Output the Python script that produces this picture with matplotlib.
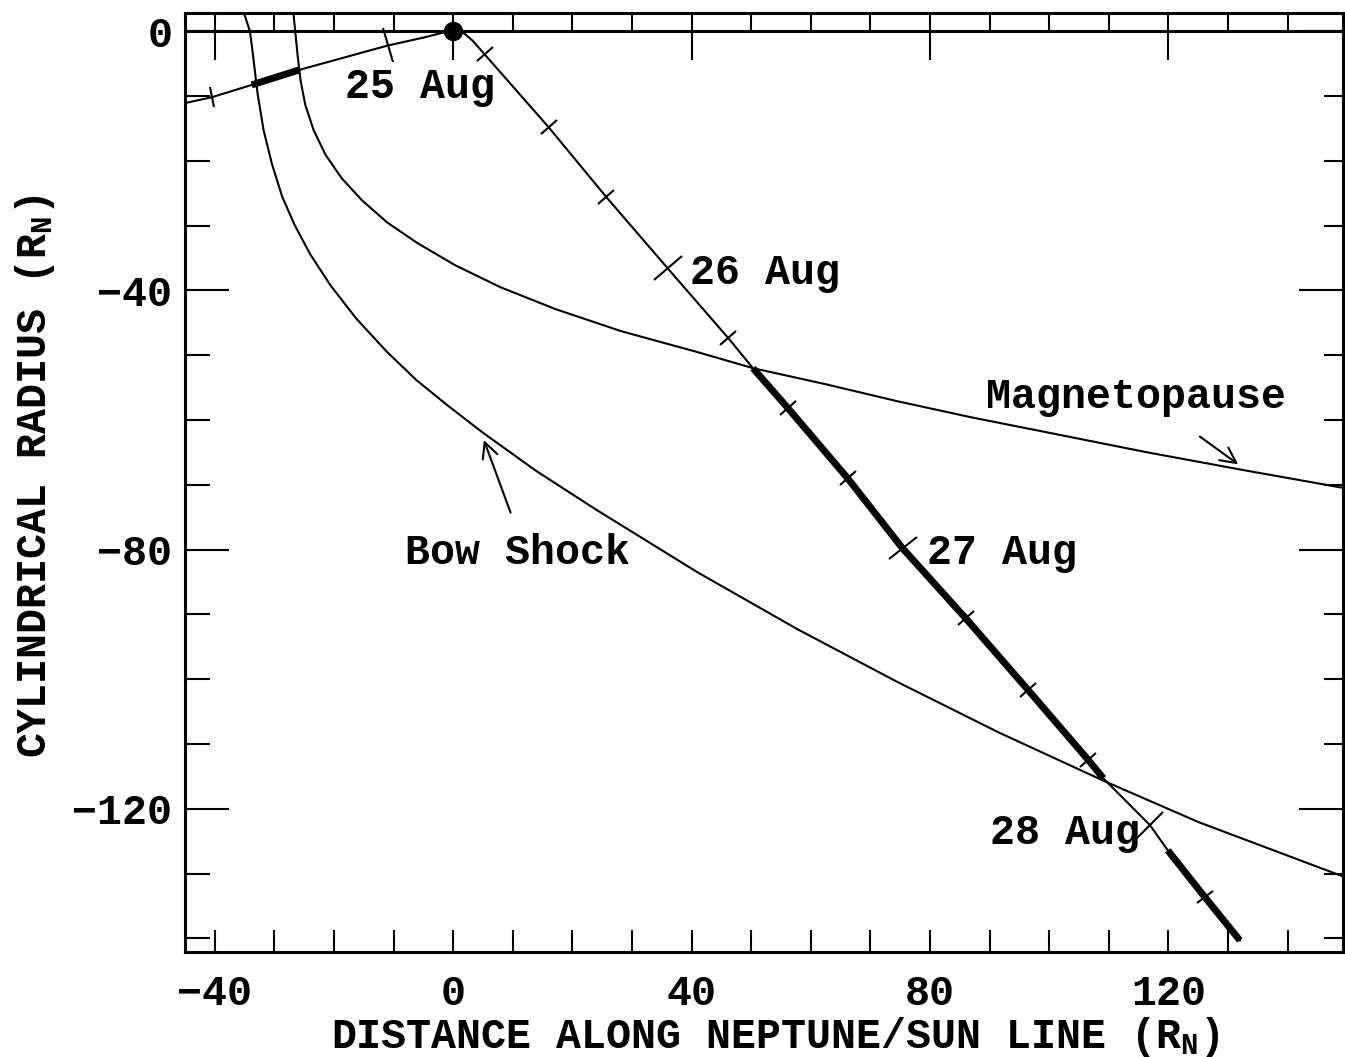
import numpy as np
import matplotlib.pyplot as plt
from matplotlib.markers import MarkerStyle
from matplotlib.transforms import Affine2D
from matplotlib.ticker import MultipleLocator

plt.rcParams['font.family'] = ['Liberation Mono', 'DejaVu Sans Mono']
plt.rcParams['font.weight'] = 'bold'
plt.rcParams['axes.labelweight'] = 'bold'
plt.rcParams['mathtext.fontset'] = 'custom'
plt.rcParams['mathtext.rm'] = 'Liberation Mono:bold'

# Voyager 2 path, R_N (x along Neptune/Sun line, y cylindrical radius)
traj_x = [-45.5, -40.5, -33.8, -25.9, -10.9, -5.0, -2.0, 0.0, 1.8, 3.3, 5.3, 16.0, 25.7, 36.0,
          46.2, 50.3, 56.2, 66.2, 75.4, 86.0, 96.5, 106.6, 109.1, 116.9, 119.9, 126.1, 132.0]
traj_y = [-11.2, -10.2, -8.3, -6.0, -2.2, -1.0, -0.3, 0.0, -0.3, -1.5, -3.6, -14.8, -25.6, -36.6,
          -47.4, -52.0, -58.2, -69.0, -79.8, -90.6, -101.7, -112.5, -115.3, -122.5, -126.4, -133.6, -140.3]

# parts of the path drawn heavy (x ranges)
sheath = [(-33.8, -25.9), (50.3, 109.1), (119.9, 132.0)]

# 6-hour marks
hr_x = [-40.5, 5.3, 16.0, 25.7, 46.2, 56.2, 66.2, 86.0, 96.5, 106.6, 126.1]
hr_y = [-10.2, -3.6, -14.8, -25.6, -47.4, -58.2, -69.0, -90.6, -101.7, -112.5, -133.6]

# day marks (25, 26, 27, 28 Aug, 00h)
day_x = [-10.9, 36.0, 75.4, 116.9]
day_y = [-2.2, -36.6, -79.8, -122.5]

# bow shock
bs_x = [-35.1, -34.1, -33.7, -32.8, -31.8, -30.4, -28.7, -26.6, -24.0, -20.6, -16.3, -11.2,
        -6.1, -1.0, 4.9, 14.0, 24.1, 41.0, 57.8, 74.7, 91.5, 109.2, 125.2, 149.5]
bs_y = [2.8, 0.0, -2.8, -9.7, -15.3, -20.5, -25.5, -29.9, -34.4, -39.2, -44.3, -49.4,
        -53.9, -57.7, -61.9, -67.9, -73.9, -83.5, -92.3, -100.5, -108.2, -115.7, -122.1, -130.5]

# magnetopause
mp_x = [-26.8, -26.5, -26.1, -25.6, -24.8, -23.4, -21.4, -18.7, -15.3, -11.1, -6.0, 0.3, 7.9,
        17.2, 28.2, 40.9, 50.3, 62.6, 74.5, 87.0, 99.6, 116.5, 132.4, 149.5]
mp_y = [2.8, 0.0, -3.7, -7.6, -11.4, -15.3, -19.1, -22.7, -26.1, -29.5, -32.7, -36.1, -39.5,
        -42.9, -46.3, -49.5, -52.0, -54.5, -57.1, -59.6, -61.9, -65.0, -67.7, -70.5]

fig = plt.figure(figsize=(13.45, 10.57), dpi=100)
ax = fig.add_axes([0.1375, 0.0993, 0.861, 0.8884])
ax.set_xlim(-45, 149.3)
ax.set_ylim(-142.1, 2.8)

lw = 1.5
ax.plot(bs_x, bs_y, color='k', lw=lw)
ax.plot(mp_x, mp_y, color='k', lw=lw)
ax.plot(traj_x, traj_y, color='k', lw=lw)
tx = np.array(traj_x)
ty = np.array(traj_y)
for a, b in sheath:
    m = (tx >= a) & (tx <= b)
    ax.plot(tx[m], ty[m], color='k', lw=5, solid_capstyle='butt')

ax.axhline(0, color='k', lw=2.2)
ax.plot(0, 0, 'o', color='k', ms=13)


def path_angle(x):
    i = int(np.clip(np.searchsorted(tx, x), 1, len(tx) - 1))
    p = ax.transData.transform([(tx[i - 1], ty[i - 1]), (tx[i], ty[i])])
    d = p[1] - p[0]
    return np.degrees(np.arctan2(d[1], d[0]))


for x, y in zip(hr_x, hr_y):
    mk = MarkerStyle('|', transform=Affine2D().rotate_deg(path_angle(x)))
    ax.plot(x, y, marker=mk, ms=15, mew=1.5, color='k')
for x, y in zip(day_x, day_y):
    mk = MarkerStyle('|', transform=Affine2D().rotate_deg(path_angle(x)))
    ax.plot(x, y, marker=mk, ms=26, mew=1.5, color='k')

fs = 30
ax.text(-18.1, -7.9, '25 Aug', fontsize=fs, va='center_baseline')
ax.text(39.7, -36.6, '26 Aug', fontsize=fs, va='center_baseline')
ax.text(79.5, -79.8, '27 Aug', fontsize=fs, va='center_baseline')
ax.text(115.2, -123.0, '28 Aug', fontsize=fs, va='center_baseline', ha='right')
ax.text(-8.0, -79.8, 'Bow Shock', fontsize=fs, va='center_baseline')
ax.text(89.4, -55.7, 'Magnetopause', fontsize=fs, va='center_baseline')

ax.annotate('', xy=(5.0, -62.7), xytext=(9.8, -74.7),
            arrowprops=dict(arrowstyle='->', lw=1.5, mutation_scale=28, color='k'))
ax.annotate('', xy=(132.1, -67.1), xytext=(124.9, -62.3),
            arrowprops=dict(arrowstyle='->', lw=1.5, mutation_scale=28, color='k'))

for s in ax.spines.values():
    s.set_linewidth(2.2)

ax.set_xticks(np.arange(-40, 121, 40))
ax.xaxis.set_minor_locator(MultipleLocator(10))
ax.set_yticks(np.arange(-120, 1, 40))
ax.yaxis.set_minor_locator(MultipleLocator(10))
ax.tick_params(axis='x', which='both', direction='in', length=16, width=1.5,
               top=False, labelsize=fs, pad=16)
ax.tick_params(axis='y', which='major', direction='in', length=32, width=1.5,
               right=False, labelsize=fs, pad=9)
ax.tick_params(axis='y', which='minor', direction='in', length=18, width=1.5, right=False)

top = ax.secondary_xaxis('top')
top.set_xticks(np.arange(-40, 121, 40))
top.xaxis.set_minor_locator(MultipleLocator(10))
top.tick_params(which='major', direction='in', length=34, width=1.5, labeltop=False)
top.tick_params(which='minor', direction='in', length=13, width=1.5)

right = ax.secondary_yaxis('right')
right.set_yticks(np.arange(-120, 1, 40))
right.yaxis.set_minor_locator(MultipleLocator(10))
right.tick_params(which='major', direction='in', length=32, width=1.5, labelright=False)
right.tick_params(which='minor', direction='in', length=14, width=1.5)

ax.set_xlabel(r'DISTANCE ALONG NEPTUNE/SUN LINE ($\mathrm{R_N}$)', fontsize=fs)
ax.xaxis.set_label_coords(0.51, -0.1025)
ax.xaxis.label.set_va('baseline')
ax.set_ylabel(r'CYLINDRICAL RADIUS ($\mathrm{R_N}$)', fontsize=fs)
ax.yaxis.set_label_coords(-0.1295, 0.507)
ax.yaxis.label.set_va('center')

fig.savefig('out.png', dpi=100)
